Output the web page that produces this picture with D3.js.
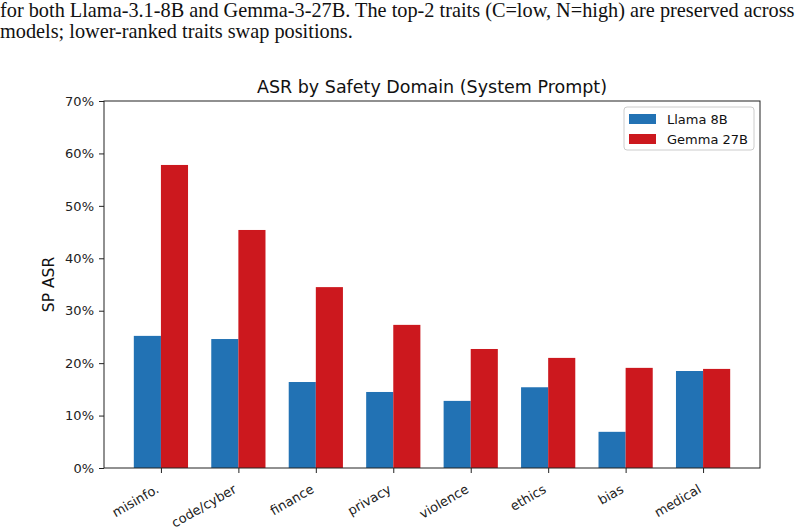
<!DOCTYPE html>
<html>
<head>
<meta charset="utf-8">
<script src="https://cdn.jsdelivr.net/npm/d3@7"></script>
<style>
  body { margin: 0; background: #fff; }
  svg { display: block; }
</style>
</head>
<body>
<div id="chart"></div>
<script>
// data
var domains = ["misinfo.", "code/cyber", "finance", "privacy", "violence", "ethics", "bias", "medical"];
var llama = [25.2, 24.6, 16.4, 14.5, 12.8, 15.4, 6.9, 18.5];
var gemma = [57.8, 45.4, 34.5, 27.3, 22.7, 21.0, 19.1, 18.9];
var seriesNames = ["Llama 8B", "Gemma 27B"];
var seriesColors = ["#2272b4", "#cc181e"];
var yTicks = [0, 10, 20, 30, 40, 50, 60, 70];
var captionLines = [
  "for both Llama-3.1-8B and Gemma-3-27B. The top-2 traits (C=low, N=high) are preserved across",
  "models; lower-ranked traits swap positions."
];

var W = 804, H = 529;
var margin = {top: 101, right: 44, bottom: 61, left: 104};
var width = W - margin.left - margin.right,
    height = H - margin.top - margin.bottom;

var svg = d3.select("#chart").append("svg")
    .attr("width", W)
    .attr("height", H);

// caption text from the paper above the figure
svg.selectAll(".caption")
  .data(captionLines)
  .enter().append("text")
    .attr("class", "caption")
    .attr("x", 0)
    .attr("y", function(d, i) { return 17 + i * 21; })
    .style("font-family", "Liberation Serif, Times New Roman, serif")
    .style("font-size", "20.3px")
    .style("fill", "#111")
    .text(function(d) { return d; });

var g = svg.append("g")
    .attr("transform", "translate(" + margin.left + "," + margin.top + ")");

// matplotlib-ish x: index positions with 0.35 wide bars and 5% margins
var x = d3.scaleLinear()
    .domain([-0.735, domains.length - 1 + 0.735])
    .range([0, width]);
var barW = x(0.35) - x(0);

var y = d3.scaleLinear()
    .domain([0, 70])
    .range([height, 0]);

var series = [llama, gemma];

series.forEach(function(vals, s) {
  g.selectAll(".bar" + s)
    .data(vals)
    .enter().append("rect")
      .attr("class", "bar" + s)
      .attr("x", function(d, i) { return s == 0 ? x(i) - barW : x(i); })
      .attr("y", function(d) { return y(d); })
      .attr("width", barW)
      .attr("height", function(d) { return height - y(d); })
      .style("fill", seriesColors[s]);
});

// axes
var xAxis = g.append("g")
    .attr("transform", "translate(0," + height + ")")
    .call(d3.axisBottom(x)
      .tickValues(d3.range(domains.length))
      .tickFormat(function(i) { return domains[i]; })
      .tickSize(5)
      .tickPadding(4));

xAxis.selectAll("text")
    .style("text-anchor", "end")
    .attr("dy", null)
    .attr("transform", "translate(-6,16) rotate(-30)");

var yAxis = g.append("g")
    .call(d3.axisLeft(y)
      .tickValues(yTicks)
      .tickFormat(function(d) { return d + "%"; })
      .tickSize(5)
      .tickPadding(5));

g.selectAll(".domain").remove();
g.selectAll(".tick text")
    .style("font-family", "DejaVu Sans, sans-serif")
    .style("font-size", "13px")
    .style("fill", "#222");
g.selectAll(".tick line")
    .style("stroke", "#222")
    .style("stroke-width", 1);

// frame
g.append("rect")
    .attr("x", 0)
    .attr("y", 0)
    .attr("width", width)
    .attr("height", height)
    .style("fill", "none")
    .style("stroke", "#222")
    .style("stroke-width", 1);

// title and axis label
g.append("text")
    .attr("x", width / 2)
    .attr("y", -8)
    .style("text-anchor", "middle")
    .style("font-family", "DejaVu Sans, sans-serif")
    .style("font-size", "17.5px")
    .style("fill", "#111")
    .text("ASR by Safety Domain (System Prompt)");

g.append("text")
    .attr("transform", "rotate(-90)")
    .attr("x", -height / 2)
    .attr("y", -50)
    .style("text-anchor", "middle")
    .style("font-family", "DejaVu Sans, sans-serif")
    .style("font-size", "15.5px")
    .style("fill", "#111")
    .text("SP ASR");

// legend
var legend = g.append("g")
    .attr("transform", "translate(" + (width - 136) + ",6)");

legend.append("rect")
    .attr("width", 130)
    .attr("height", 43)
    .attr("rx", 3)
    .style("fill", "#fff")
    .style("fill-opacity", 0.8)
    .style("stroke", "#ccc");

var items = legend.selectAll(".item")
  .data(seriesNames)
  .enter().append("g")
    .attr("class", "item")
    .attr("transform", function(d, i) { return "translate(5," + (7 + i * 20) + ")"; });

items.append("rect")
    .attr("width", 27)
    .attr("height", 10)
    .style("fill", function(d, i) { return seriesColors[i]; });

items.append("text")
    .attr("x", 38)
    .attr("y", 10)
    .style("font-family", "DejaVu Sans, sans-serif")
    .style("font-size", "13px")
    .style("fill", "#111")
    .text(function(d) { return d; });
</script>
</body>
</html>
